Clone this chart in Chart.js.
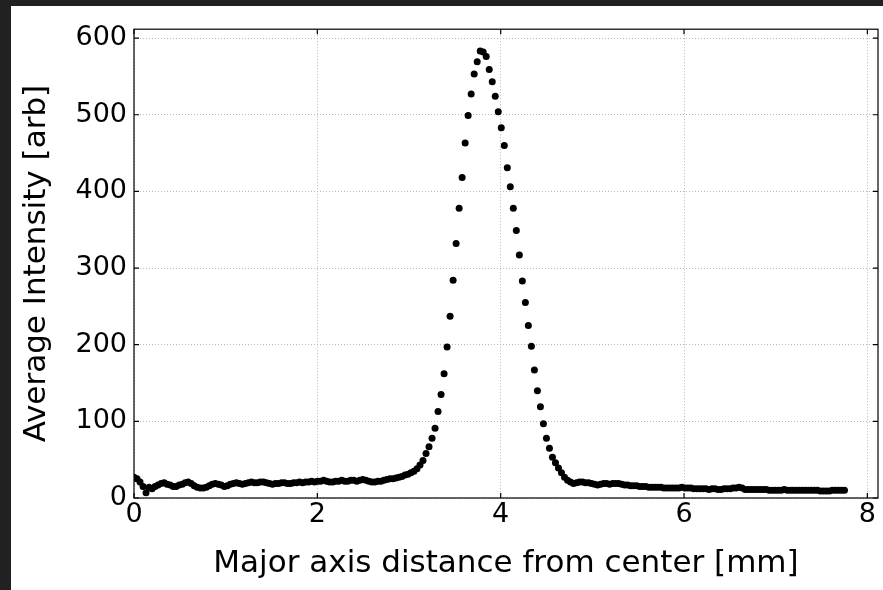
<!DOCTYPE html>
<html>
<head>
<meta charset="utf-8">
<script src="https://cdn.jsdelivr.net/npm/chart.js@4/dist/chart.umd.min.js"></script>
<style>
  html, body { margin: 0; padding: 0; background: #212121; }
  #wrap { position: absolute; left: 11px; top: 6px; width: 872px; height: 584px; background: #fff; }
</style>
</head>
<body>
<div id="wrap"><canvas id="profile" width="872" height="584"></canvas></div>
<script>
// profile along the major axis, one sample every ~0.0328 mm
const xStep = 0.03284;
const intensity = [
  27, 25, 21, 15, 7, 14, 12, 15, 17, 19, 20, 18, 17, 15, 15, 17, 18, 20, 21, 19,
  16, 14, 13, 13, 14, 16, 18, 19, 18, 17, 15, 16, 18, 19, 20, 19, 18, 19, 20, 21,
  20, 20, 21, 21, 20, 19, 18, 19, 19, 20, 20, 19, 19, 20, 20, 21, 20, 21, 21, 22,
  21, 22, 22, 23, 22, 21, 21, 22, 22, 23, 22, 22, 23, 23, 22, 23, 24, 23, 22, 21,
  21, 22, 22, 23, 24, 25, 25, 26, 27, 28, 30, 31, 33, 35, 38, 43, 49, 58, 67, 78,
  91, 113, 135, 162, 197, 237, 284, 332, 378, 418, 463, 499, 527, 553, 569, 583, 582, 576, 559, 543,
  524, 504, 483, 460, 431, 406, 378, 349, 317, 283, 255, 225, 198, 167, 140, 119, 97, 78, 65, 53,
  46, 39, 33, 27, 23, 21, 19, 20, 21, 21, 20, 20, 19, 18, 17, 18, 19, 19, 18, 19,
  19, 19, 18, 17, 17, 16, 16, 16, 15, 15, 15, 14, 14, 14, 14, 14, 13, 13, 13, 13,
  13, 13, 14, 13, 13, 13, 12, 12, 12, 12, 12, 11, 12, 12, 11, 11, 12, 12, 12, 13,
  13, 14, 13, 11, 11, 11, 11, 11, 11, 11, 11, 10, 10, 10, 10, 10, 11, 10, 10, 10,
  10, 10, 10, 10, 10, 10, 10, 10, 9, 9, 9, 9, 10, 10, 10, 10, 10
];
const xTicks = [0, 2, 4, 6, 8];
const yTicks = [0, 100, 200, 300, 400, 500, 600];

const points = intensity.map((v, i) => ({ x: i * xStep, y: v }));

const tickFont = { family: 'DejaVu Sans', size: 27 };
const titleFont = { family: 'DejaVu Sans', size: 31 };

// frame and inward tick marks on all four sides
const frame = {
  id: 'frame',
  afterDraw(chart) {
    const { ctx, chartArea: a, scales } = chart;
    ctx.save();
    ctx.strokeStyle = '#000';
    ctx.lineWidth = 1.2;
    ctx.beginPath();
    xTicks.forEach(t => {
      const px = scales.x.getPixelForValue(t);
      ctx.moveTo(px, a.bottom); ctx.lineTo(px, a.bottom - 5);
      ctx.moveTo(px, a.top); ctx.lineTo(px, a.top + 5);
    });
    yTicks.forEach(t => {
      const py = scales.y.getPixelForValue(t);
      ctx.moveTo(a.left, py); ctx.lineTo(a.left + 5, py);
      ctx.moveTo(a.right, py); ctx.lineTo(a.right - 5, py);
    });
    ctx.stroke();
    ctx.strokeRect(a.left, a.top, a.right - a.left, a.bottom - a.top);
    ctx.restore();
  }
};

new Chart(document.getElementById('profile'), {
  type: 'scatter',
  data: {
    datasets: [{
      data: points,
      backgroundColor: '#000',
      borderWidth: 0,
      pointRadius: 3.5,
      pointHoverRadius: 3.5
    }]
  },
  options: {
    responsive: false,
    animation: false,
    layout: { padding: { left: 0, top: 17, right: 5, bottom: 0 } },
    plugins: { legend: { display: false }, tooltip: { enabled: false } },
    scales: {
      x: {
        type: 'linear',
        min: 0,
        max: 8.116,
        afterFit: s => { s.height = 92; },
        ticks: { stepSize: 2, includeBounds: false, color: '#000', font: tickFont, padding: 1, maxRotation: 0 },
        grid: { color: '#b8b8b8', lineWidth: 1, drawTicks: false },
        border: { display: false, dash: [1, 2] },
        title: { display: true, text: 'Major axis distance from center [mm]', color: '#000',
                 font: titleFont, padding: { top: 0, bottom: 7 } }
      },
      y: {
        min: 0,
        max: 611.6,
        afterFit: s => { s.width = 123; },
        ticks: { stepSize: 100, includeBounds: false, color: '#000', font: tickFont, padding: 7 },
        grid: { color: '#b8b8b8', lineWidth: 1, drawTicks: false },
        border: { display: false, dash: [1, 2] },
        title: { display: true, text: 'Average Intensity [arb]', color: '#000',
                 font: titleFont, padding: { top: 7, bottom: 0 } }
      }
    }
  },
  plugins: [frame]
});
</script>
</body>
</html>
